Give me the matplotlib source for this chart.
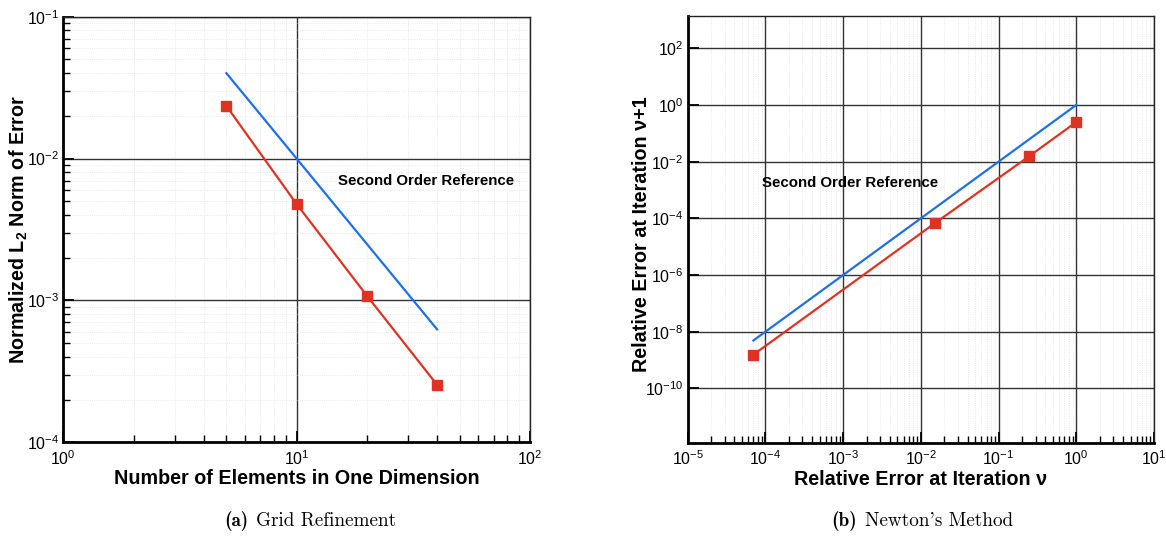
import numpy as np
import matplotlib
matplotlib.use('Agg')
import matplotlib.pyplot as plt
from matplotlib.ticker import LogLocator, NullLocator, NullFormatter

# --- Data ---

# (a) grid refinement study
n_elements = [5, 10, 20, 40]
l2_error = [2.35e-2, 4.78e-3, 1.08e-3, 2.54e-4]
ref_n = [5, 40]
ref_l2 = [4.0e-2, 6.25e-4]

# (b) Newton iterations: error at v vs error at v+1
err_v = [6.9e-5, 1.52e-2, 0.25, 1.0]
err_v1 = [1.5e-9, 6.8e-5, 1.58e-2, 0.25]
ref_v = [7.0e-5, 1.0]
ref_v1 = [4.9e-9, 1.0]

red = '#de3322'
blue = '#1f6fe8'

plt.rcParams['font.family'] = ['Liberation Sans', 'DejaVu Sans']
plt.rcParams['mathtext.fontset'] = 'custom'
plt.rcParams['mathtext.rm'] = 'Liberation Sans'
plt.rcParams['mathtext.it'] = 'Liberation Sans:italic'
plt.rcParams['mathtext.bf'] = 'Liberation Sans:bold'
plt.rcParams['axes.unicode_minus'] = False

fig = plt.figure(figsize=(11.66, 5.40), dpi=100)
ax1 = fig.add_axes([0.0543, 0.181, 0.4002, 0.788])
ax2 = fig.add_axes([0.5898, 0.180, 0.3999, 0.7904])


def style_axes(ax):
    # Tecplot-ish frame: heavy left/bottom, thin top/right
    for side in ['left', 'bottom']:
        ax.spines[side].set_linewidth(2.0)
    for side in ['top', 'right']:
        ax.spines[side].set_linewidth(1.0)
        ax.spines[side].set_color('#222222')
    ax.tick_params(which='major', direction='in', length=8, width=1.3,
                   labelsize=11.5, top=False, right=False)
    ax.tick_params(which='minor', direction='in', length=5, width=1.0,
                   top=False, right=False)
    ax.tick_params(axis='x', which='major', pad=5)
    ax.tick_params(axis='y', which='major', pad=3)
    ax.grid(True, which='major', color='#333333', linewidth=1.0)
    ax.grid(True, which='minor', color='#e2e2e2', linewidth=0.6, linestyle=':')
    ax.set_axisbelow(True)


# --- (a) Grid Refinement ---
ax1.set_xscale('log')
ax1.set_yscale('log')
ax1.plot(ref_n, ref_l2, color=blue, linewidth=1.6)
ax1.plot(n_elements, l2_error, color=red, linewidth=1.6,
         marker='s', markersize=6.5)
ax1.set_xlim(1, 100)
ax1.set_ylim(1e-4, 1e-1)
style_axes(ax1)
ax1.text(15.0, 6.9e-3, 'Second Order Reference', fontsize=10.8,
         fontweight='bold', va='center')
ax1.set_xlabel('Number of Elements in One Dimension', fontsize=14.2,
               fontweight='bold', labelpad=1)
ax1.set_ylabel(r'Normalized L$_{\mathbf{2}}$ Norm of Error', fontsize=14.2,
               fontweight='bold')
ax1.yaxis.set_label_coords(-0.072, 0.5)

# --- (b) Newton's Method ---
ax2.set_xscale('log')
ax2.set_yscale('log')
ax2.plot(ref_v, ref_v1, color=blue, linewidth=1.6)
ax2.plot(err_v, err_v1, color=red, linewidth=1.6,
         marker='s', markersize=6.5)
ax2.set_xlim(1e-5, 10)
ax2.set_ylim(10 ** -11.92, 10 ** 3.14)
ax2.xaxis.set_major_locator(LogLocator(base=10, numticks=20))
ax2.xaxis.set_minor_locator(LogLocator(base=10, subs=np.arange(2, 10), numticks=20))
ax2.xaxis.set_minor_formatter(NullFormatter())
ax2.set_yticks([10.0 ** k for k in range(-10, 3, 2)])
ax2.yaxis.set_minor_locator(NullLocator())
style_axes(ax2)
ax2.text(10 ** -4.04, 10 ** -2.75, 'Second Order Reference', fontsize=10.8,
         fontweight='bold', va='center')
ax2.set_xlabel('Relative Error at Iteration \u03bd', fontsize=14.2,
               fontweight='bold', labelpad=1)
ax2.set_ylabel('Relative Error at Iteration \u03bd+1', fontsize=14.2,
               fontweight='bold')
ax2.yaxis.set_label_coords(-0.079, 0.489)

# --- Sub-captions in a LaTeX-like serif ---
cap_y = 0.035
renderer = fig.canvas.get_renderer()
fig_w = fig.get_figwidth() * fig.dpi


def caption(x_center, tag, body):
    t1 = fig.text(0, cap_y, tag, family=['cmb10', 'DejaVu Serif'],
                  fontsize=13.8, ha='left', va='center')
    t2 = fig.text(0, cap_y, body, family=['cmr10', 'DejaVu Serif'],
                  fontsize=13.8, ha='left', va='center')
    w1 = t1.get_window_extent(renderer).width
    w2 = t2.get_window_extent(renderer).width
    gap = 8
    x0 = x_center * fig_w - (w1 + gap + w2) / 2
    t1.set_x(x0 / fig_w)
    t2.set_x((x0 + w1 + gap) / fig_w)


caption(0.266, '(a)', 'Grid Refinement')
caption(0.791, '(b)', "Newton's Method")

fig.savefig('out.png', dpi=100)
